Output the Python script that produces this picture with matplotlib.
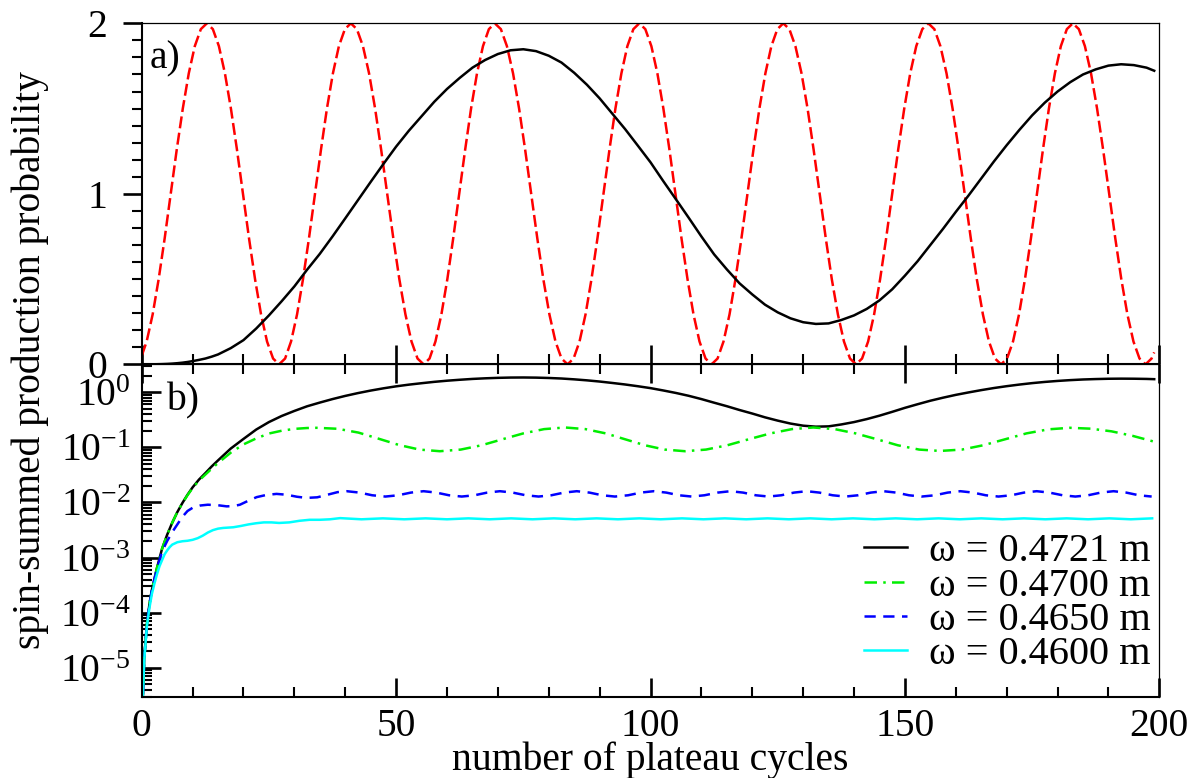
import math
import matplotlib
matplotlib.use('Agg')
import matplotlib.pyplot as plt
from matplotlib.ticker import MultipleLocator, LogLocator, FuncFormatter, NullFormatter

plt.rcParams['font.family'] = ['Liberation Serif', 'DejaVu Serif']
plt.rcParams['mathtext.fontset'] = 'custom'
plt.rcParams['mathtext.rm'] = 'Liberation Serif'

# panel a) red dashed curve
red_x = [0.0, 0.97, 2.15, 3.33, 4.52, 5.70, 6.88, 8.07, 9.25, 10.43, 11.62, 12.8,
         13.98, 15.17, 16.35, 17.53, 18.72, 19.9, 21.08, 22.27, 23.45, 24.63, 25.82, 27.0,
         28.18, 29.35, 30.53, 31.7, 32.88, 34.05, 35.23, 36.4, 37.58, 38.75, 39.93, 41.1,
         42.29, 43.48, 44.68, 45.87, 47.06, 48.25, 49.44, 50.63, 51.83, 53.02, 54.21, 55.4,
         56.57, 57.73, 58.9, 60.07, 61.23, 62.4, 63.57, 64.73, 65.9, 67.07, 68.23, 69.4,
         70.59, 71.78, 72.98, 74.17, 75.36, 76.55, 77.74, 78.93, 80.13, 81.32, 82.51, 83.7,
         84.88, 86.05, 87.23, 88.4, 89.58, 90.75, 91.93, 93.1, 94.28, 95.45, 96.63, 97.8,
         98.98, 100.17, 101.35, 102.53, 103.72, 104.9, 106.08, 107.27, 108.45, 109.63, 110.82, 112.0,
         113.18, 114.35, 115.53, 116.7, 117.88, 119.05, 120.23, 121.4, 122.58, 123.75, 124.93, 126.1,
         127.29, 128.48, 129.68, 130.87, 132.06, 133.25, 134.44, 135.63, 136.83, 138.02, 139.21, 140.4,
         141.58, 142.77, 143.95, 145.13, 146.32, 147.5, 148.68, 149.87, 151.05, 152.23, 153.42, 154.6,
         155.79, 156.98, 158.18, 159.37, 160.56, 161.75, 162.94, 164.13, 165.33, 166.52, 167.71, 168.9,
         170.08, 171.25, 172.43, 173.6, 174.78, 175.95, 177.13, 178.3, 179.48, 180.65, 181.83, 183.0,
         184.19, 185.38, 186.58, 187.77, 188.96, 190.15, 191.34, 192.53, 193.73, 194.92, 196.11, 197.3,
         198.48, 199.0]
red_y = [0.05, 0.134, 0.293, 0.5, 0.741, 1.0, 1.259, 1.5, 1.707, 1.866, 1.966, 2.0,
         1.966, 1.866, 1.707, 1.5, 1.259, 1.0, 0.741, 0.5, 0.293, 0.134, 0.034, 0.0,
         0.034, 0.134, 0.293, 0.5, 0.741, 1.0, 1.259, 1.5, 1.707, 1.866, 1.966, 2.0,
         1.966, 1.866, 1.707, 1.5, 1.259, 1.0, 0.741, 0.5, 0.293, 0.134, 0.034, 0.0,
         0.034, 0.134, 0.293, 0.5, 0.741, 1.0, 1.259, 1.5, 1.707, 1.866, 1.966, 2.0,
         1.966, 1.866, 1.707, 1.5, 1.259, 1.0, 0.741, 0.5, 0.293, 0.134, 0.034, 0.0,
         0.034, 0.134, 0.293, 0.5, 0.741, 1.0, 1.259, 1.5, 1.707, 1.866, 1.966, 2.0,
         1.966, 1.866, 1.707, 1.5, 1.259, 1.0, 0.741, 0.5, 0.293, 0.134, 0.034, 0.0,
         0.034, 0.134, 0.293, 0.5, 0.741, 1.0, 1.259, 1.5, 1.707, 1.866, 1.966, 2.0,
         1.966, 1.866, 1.707, 1.5, 1.259, 1.0, 0.741, 0.5, 0.293, 0.134, 0.034, 0.0,
         0.034, 0.134, 0.293, 0.5, 0.741, 1.0, 1.259, 1.5, 1.707, 1.866, 1.966, 2.0,
         1.966, 1.866, 1.707, 1.5, 1.259, 1.0, 0.741, 0.5, 0.293, 0.134, 0.034, 0.0,
         0.034, 0.134, 0.293, 0.5, 0.741, 1.0, 1.259, 1.5, 1.707, 1.866, 1.966, 2.0,
         1.966, 1.866, 1.707, 1.5, 1.259, 1.0, 0.741, 0.5, 0.293, 0.134, 0.034, 0.0,
         0.034, 0.07]

# w = 0.4721 m (black, both panels)
black_x = [0.1, 0.5, 1.0, 1.5, 2.0, 3.0, 4.0, 5.0, 6.0, 7.0, 8.0, 9.0, 10.0,
           11.25, 12.5, 13.75, 15.0, 17.5, 20.0, 22.5, 25.0, 27.5, 30.0, 32.5,
           35.0, 37.5,
           40.0, 42.5, 45.0, 47.5, 50.0, 52.5, 55.0, 57.5, 60.0, 62.5, 65.0,
           67.5, 70.0, 72.5, 75.0, 77.5, 80.0, 82.5, 85.0, 87.5, 90.0, 92.5,
           95.0, 97.5, 100.0, 102.5, 105.0, 107.5, 110.0, 112.5, 115.0, 117.5,
           120.0, 122.5, 125.0, 127.5, 130.0, 132.5, 135.0, 137.5, 140.0,
           142.5, 145.0, 147.5, 150.0, 152.5, 155.0, 157.5, 160.0, 162.5,
           165.0, 167.5, 170.0, 172.5, 175.0, 177.5, 180.0, 182.5, 185.0,
           187.5, 190.0, 192.5, 195.0, 197.5, 199.0]
black_y = [1.5e-6, 1.5e-5, 6e-5, 1.4e-4, 2.6e-4, 6.5e-4, 1.45e-3, 2.6e-3,
           4.3e-3, 6.7e-3, 9.8e-3, 0.0138, 0.0188,
           0.026, 0.034, 0.045, 0.058, 0.095, 0.142, 0.21, 0.287, 0.37, 0.457,
           0.555, 0.648, 0.75,
           0.856, 0.963, 1.07, 1.175, 1.277, 1.37, 1.455, 1.54, 1.615,
           1.68, 1.74, 1.785, 1.82, 1.842, 1.848, 1.837, 1.81, 1.77, 1.71,
           1.64, 1.56, 1.47, 1.38, 1.283, 1.185, 1.075, 0.968, 0.86, 0.75,
           0.645, 0.557, 0.475, 0.41, 0.35, 0.305, 0.27, 0.247, 0.237, 0.24,
           0.26, 0.287, 0.325, 0.375, 0.44, 0.52, 0.605, 0.70, 0.795, 0.894,
           0.99, 1.09, 1.19, 1.285, 1.375, 1.46, 1.535, 1.60, 1.655, 1.70,
           1.73, 1.752, 1.76, 1.755, 1.74, 1.722]

# w = 0.4700 m
green_x = [0.1, 0.5, 1.0, 1.5, 2.0, 3.0, 4.0, 5.0, 6.0, 7.0, 8.0, 9.0, 10.0,
           11.25, 12.5, 13.75, 15.0, 17.5, 20.0, 22.5, 25.0, 27.5, 30.0,
           32.5, 34.4,
           38.5, 42.6, 46.6, 50.6, 54.6, 58.6, 62.7, 66.8, 70.9, 75.0, 79.1,
           83.2, 87.2, 91.2, 95.0, 98.9, 102.8, 106.8, 110.9, 115.1, 119.3,
           123.6, 127.8, 132.0, 136.2, 140.3, 144.5, 148.6, 152.8, 156.9,
           161.2, 165.4, 169.7, 173.9, 178.2, 182.4, 186.5, 190.6, 194.7,
           198.8]
green_y = [1.5e-6, 1.5e-5, 6e-5, 1.4e-4, 2.6e-4, 6.5e-4, 1.45e-3, 2.6e-3,
           4.3e-3, 6.7e-3, 9.7e-3, 0.0136, 0.0182,
           0.025, 0.032, 0.041, 0.052, 0.080, 0.113, 0.145, 0.178, 0.200,
           0.216, 0.224, 0.226,
           0.217, 0.185, 0.143, 0.110, 0.091, 0.085, 0.091, 0.109, 0.140,
           0.179, 0.214, 0.229, 0.214, 0.179, 0.140, 0.109, 0.091, 0.085,
           0.091, 0.109, 0.140, 0.179, 0.214, 0.229, 0.214, 0.179, 0.140,
           0.109, 0.091, 0.086, 0.091, 0.109, 0.140, 0.179, 0.212, 0.226,
           0.218, 0.195, 0.162, 0.128]

# w = 0.4650 m
blue_x = [0.1, 0.5, 1.0, 1.5, 2.0, 3.0, 4.0, 5.0, 6.0, 7.0, 8.0, 9.0, 10.0,
          11.5, 13.0, 15.0, 16.7, 18.0, 19.3, 21.0, 22.6, 24.5, 26.5, 28.5,
          30.5, 32.4, 34.5, 36.5, 38.5, 40.3,
          42.8, 45.3, 47.9, 50.4, 52.9, 55.4, 57.9, 60.4, 62.9, 65.4, 67.9,
          70.4, 72.9, 75.5, 78.0, 80.5, 83.0, 85.5, 88.0, 90.5, 93.0, 95.6,
          98.1, 100.6, 103.1, 105.6, 108.1, 110.6, 113.2, 115.7, 118.2, 120.7,
          123.2, 125.7, 128.2, 130.7, 133.2, 135.8, 138.3, 140.8, 143.3, 145.8,
          148.3, 150.8, 153.3, 155.9, 158.4, 160.9, 163.4, 165.9, 168.4, 170.9,
          173.4, 175.9, 178.4, 181.0, 183.5, 186.0, 188.5, 191.0, 193.5, 196.0,
          198.5]
blue_y = [1.5e-6, 1.5e-5, 6e-5, 1.4e-4, 2.6e-4, 6.3e-4, 1.3e-3, 2.0e-3,
          2.9e-3, 4.0e-3, 5.5e-3, 7.0e-3, 8.0e-3,
          8.8e-3, 9.1e-3, 8.9e-3, 8.5e-3, 8.6e-3, 9.1e-3, 0.0108, 0.0125,
          0.0137, 0.0143, 0.0138, 0.0127, 0.0121, 0.0124, 0.0138, 0.0154,
          0.0160,
          0.0151, 0.0135, 0.0128, 0.0135, 0.0151, 0.0160, 0.0151, 0.0135,
          0.0128, 0.0135, 0.0151, 0.0160, 0.0151, 0.0135, 0.0128, 0.0135,
          0.0151, 0.0160, 0.0151, 0.0135, 0.0128, 0.0135, 0.0151, 0.0160,
          0.0151, 0.0135, 0.0128, 0.0135, 0.0151, 0.0160, 0.0151, 0.0135,
          0.0128, 0.0135, 0.0151, 0.0160, 0.0151, 0.0135, 0.0128, 0.0135,
          0.0151, 0.0160, 0.0151, 0.0135, 0.0128, 0.0135, 0.0151, 0.0160,
          0.0151, 0.0135, 0.0128, 0.0135, 0.0151, 0.0160, 0.0151, 0.0135,
          0.0128, 0.0135, 0.0151, 0.0160, 0.0151, 0.0135, 0.0128]

# w = 0.4600 m
cyan_x = [0.1, 0.5, 1.0, 1.5, 2.0, 2.5, 3.0, 3.5, 4.0, 4.5, 5.0, 5.5, 6.0,
          7.0, 8.0, 9.0, 10.0, 11.0, 12.0, 13.0, 14.0, 15.0, 16.0, 17.0, 18.0,
          19.5, 21.0, 22.5, 24.0, 25.5, 27.0, 29.0, 31.0, 33.0, 35.0, 37.0, 39.0,
          43.2, 47.4, 51.6, 55.8, 60.0, 64.2, 68.4, 72.6, 76.8, 81.0,
          85.2, 89.4, 93.6, 97.8, 102.0, 106.2, 110.4, 114.6, 118.8, 123.0,
          127.2, 131.4, 135.6, 139.8, 144.0, 148.2, 152.4, 156.6, 160.8, 165.0,
          169.2, 173.4, 177.6, 181.8, 186.0, 190.2, 194.4, 198.6]
cyan_y = [1.5e-6, 1.4e-5, 5.5e-5, 1.2e-4, 2.2e-4, 3.4e-4, 5.0e-4, 7.0e-4,
          9.0e-4, 1.15e-3, 1.35e-3, 1.55e-3, 1.72e-3,
          1.9e-3, 1.98e-3, 2.02e-3, 2.1e-3, 2.25e-3, 2.5e-3, 2.85e-3, 3.15e-3,
          3.35e-3, 3.45e-3, 3.5e-3, 3.55e-3,
          3.75e-3, 4.0e-3, 4.2e-3, 4.35e-3, 4.35e-3, 4.25e-3, 4.35e-3, 4.65e-3,
          4.85e-3, 4.85e-3, 4.95e-3, 5.2e-3,
          4.95e-3, 5.15e-3, 4.95e-3, 5.15e-3, 4.95e-3, 5.15e-3, 4.95e-3,
          5.15e-3, 4.95e-3, 5.15e-3,
          4.95e-3, 5.15e-3, 4.95e-3, 5.15e-3, 4.95e-3, 5.15e-3, 4.95e-3,
          5.15e-3, 4.95e-3, 5.15e-3,
          4.95e-3, 5.15e-3, 4.95e-3, 5.15e-3, 4.95e-3, 5.15e-3, 4.95e-3,
          5.15e-3, 4.95e-3, 5.15e-3,
          4.95e-3, 5.15e-3, 4.95e-3, 5.15e-3, 4.95e-3, 5.15e-3, 4.95e-3,
          5.15e-3]

labels = ['ω = 0.4721 m', 'ω = 0.4700 m', 'ω = 0.4650 m', 'ω = 0.4600 m']

tick_fs = 28.5
label_fs = 28.5

fig = plt.figure(figsize=(11.97, 7.78), dpi=100)
ax1 = fig.add_axes([0.1184, 0.5317, 0.8501, 0.4383])
ax2 = fig.add_axes([0.1184, 0.1045, 0.8501, 0.4272])

# --- panel a) ---
ax1.plot(red_x, red_y, color='red', lw=1.8, linestyle=(0, (4.8, 1.8)))
ax1.plot(black_x, black_y, color='black', lw=1.8)
ax1.set_xlim(0, 200)
ax1.set_ylim(0, 2)
ax1.xaxis.set_major_locator(MultipleLocator(50))
ax1.xaxis.set_minor_locator(MultipleLocator(10))
ax1.yaxis.set_major_locator(MultipleLocator(1))
ax1.yaxis.set_minor_locator(MultipleLocator(0.1))
ax1.tick_params(axis='x', which='both', direction='in', bottom=True, top=False,
                labelbottom=False)
ax1.tick_params(axis='y', which='both', direction='out', left=True, right=False,
                labelsize=tick_fs, pad=11)
ax1.tick_params(which='major', length=14, width=1.9)
ax1.tick_params(which='minor', length=7, width=1.5)
ax1.text(0.008, 0.95, 'a)', transform=ax1.transAxes, fontsize=tick_fs,
         ha='left', va='top')

# --- panel b) ---
ax2.plot(black_x, black_y, color='black', lw=1.8, label=labels[0])
ax2.plot(green_x, green_y, color='#00ee00', lw=1.8,
         linestyle=(0, (5, 2.5, 1, 2.5)), label=labels[1])
ax2.plot(blue_x, blue_y, color='#0000ff', lw=1.8,
         linestyle=(0, (4.5, 3)), label=labels[2])
ax2.plot(cyan_x, cyan_y, color='cyan', lw=1.8, label=labels[3])
ax2.set_yscale('log')
ax2.set_xlim(0, 200)
ax2.set_ylim(3e-6, 3.2)
ax2.xaxis.set_major_locator(MultipleLocator(50))
ax2.xaxis.set_minor_locator(MultipleLocator(10))
ax2.yaxis.set_major_locator(LogLocator(base=10, numticks=20))
ax2.yaxis.set_minor_locator(LogLocator(base=10, subs=range(2, 10), numticks=20))
ax2.yaxis.set_major_formatter(
    FuncFormatter(lambda v, p: r'$\mathregular{10^{%d}}$' % round(math.log10(v))))
ax2.yaxis.set_minor_formatter(NullFormatter())
ax2.tick_params(axis='x', which='both', direction='in', bottom=True, top=True,
                labelsize=tick_fs, pad=8)
ax2.tick_params(axis='y', which='both', direction='in', left=True, right=False,
                labelsize=tick_fs, pad=8)
ax2.tick_params(which='major', length=14, width=1.9)
ax2.tick_params(which='minor', length=7, width=1.5)
ax2.text(0.024, 0.945, 'b)', transform=ax2.transAxes, fontsize=tick_fs,
         ha='left', va='top')

ax2.legend(loc='lower right', bbox_to_anchor=(0.992, 0.07), frameon=False,
           fontsize=29, handlelength=1.07, handletextpad=0.55,
           labelspacing=-0.07, borderpad=0, borderaxespad=0)

for ax in (ax1, ax2):
    ax.spines['left'].set_linewidth(1.5)
    ax.spines['bottom'].set_linewidth(1.5)
    ax.spines['top'].set_linewidth(0.9)
    ax.spines['right'].set_linewidth(0.9)

fig.text(0.025, 0.5375, 'spin-summed production probability', rotation=90,
         fontsize=label_fs, ha='center', va='center')
fig.text(0.5434, 0.0105, 'number of plateau cycles', fontsize=label_fs,
         ha='center', va='baseline')

fig.savefig('out.png', dpi=100)
